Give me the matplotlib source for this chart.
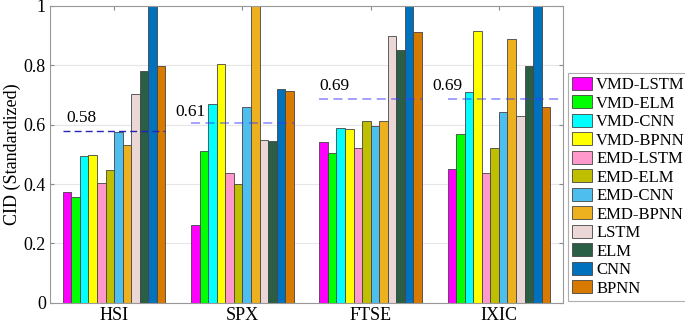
import matplotlib.pyplot as plt
import numpy as np

plt.rcParams["font.family"] = ["Liberation Serif", "DejaVu Serif"]
plt.rcParams["mathtext.fontset"] = "stix"

indices = ["HSI", "SPX", "FTSE", "IXIC"]
models = ["VMD-LSTM", "VMD-ELM", "VMD-CNN", "VMD-BPNN",
          "EMD-LSTM", "EMD-ELM", "EMD-CNN", "EMD-BPNN",
          "LSTM", "ELM", "CNN", "BPNN"]

# CID (standardized), one list per index, in model order
cid_hsi = [0.375, 0.356, 0.494, 0.498, 0.405, 0.448, 0.575, 0.530, 0.704, 0.782, 1.0, 0.799]
cid_spx = [0.263, 0.512, 0.668, 0.804, 0.437, 0.400, 0.659, 1.0, 0.547, 0.544, 0.719, 0.714]
cid_ftse = [0.540, 0.506, 0.588, 0.584, 0.521, 0.611, 0.596, 0.613, 0.899, 0.852, 1.0, 0.911]
cid_ixic = [0.451, 0.568, 0.710, 0.914, 0.437, 0.521, 0.642, 0.887, 0.629, 0.798, 1.0, 0.659]

mean_cid = [0.58, 0.61, 0.69, 0.69]
mean_labels = ["0.58", "0.61", "0.69", "0.69"]

colors = ["#ff00ff", "#00ff00", "#00ffff", "#ffff00",
          "#ff99cc", "#bfbf00", "#4dbeee", "#edb120",
          "#ecd7d7", "#2a5e45", "#0072bd", "#d97a00"]

values = np.array([cid_hsi, cid_spx, cid_ftse, cid_ixic])
x = np.arange(1, len(indices) + 1)
group_w = 0.8
bar_w = group_w / len(models)

fig = plt.figure(figsize=(6.85, 3.25), dpi=100)
ax = fig.add_axes([0.073, 0.068, 0.749, 0.914])

for j, (m, c) in enumerate(zip(models, colors)):
    pos = x - group_w / 2 + bar_w * (j + 0.5)
    ax.bar(pos, values[:, j], width=bar_w, color=c, edgecolor="#444444",
           linewidth=0.6, label=m, zorder=2)

# mean dashed lines with value labels
text_dx = [0.03, -0.12, 0.0, -0.12]
text_dy = [0.015, 0.005, 0.012, 0.012]
line_ext = [0.0, 0.0, 0.0, 0.07]
for i, (mv, lab) in enumerate(zip(mean_cid, mean_labels)):
    x0 = x[i] - group_w / 2
    x1 = x[i] + group_w / 2 + line_ext[i]
    if i == 0:
        ax.plot([x0, x1], [mv, mv], ls=(0, (5, 3)), color="#2424b8", lw=1.0, zorder=3)
    else:
        ax.plot([x0, x1], [mv - 0.005, mv - 0.005], ls=(0, (5, 3)), color="#3838ff",
                alpha=0.5, lw=1.3, zorder=3)
    ax.text(x0 + text_dx[i], mv + text_dy[i], lab, fontsize=12.5,
            ha="left", va="bottom", zorder=4)

ax.set_xlim(0.5, 4.5)
ax.set_ylim(0, 1)
ax.set_xticks(x)
ax.set_xticklabels(indices, fontsize=13)
ax.set_yticks([0, 0.2, 0.4, 0.6, 0.8, 1])
ax.set_yticklabels(["0", "0.2", "0.4", "0.6", "0.8", "1"], fontsize=13)
ax.set_ylabel("CID (Standardized)", fontsize=13, labelpad=2)
ax.yaxis.grid(True, color="#e6e6e6", lw=0.8, zorder=0)
ax.set_axisbelow(True)
ax.tick_params(direction="in", top=True, right=True, length=3, color="#888888", pad=3)
for s in ax.spines.values():
    s.set_color("#999999")
    s.set_linewidth(0.8)

leg = fig.legend(loc="upper left", bbox_to_anchor=(0.829, 0.776), fontsize=12,
                 frameon=True, fancybox=False, edgecolor="#999999",
                 handlelength=1.2, handleheight=0.8, handletextpad=0.25,
                 labelspacing=0.14, borderpad=0.25, borderaxespad=0)
leg.get_frame().set_linewidth(0.8)

fig.savefig("out.png", dpi=100)
